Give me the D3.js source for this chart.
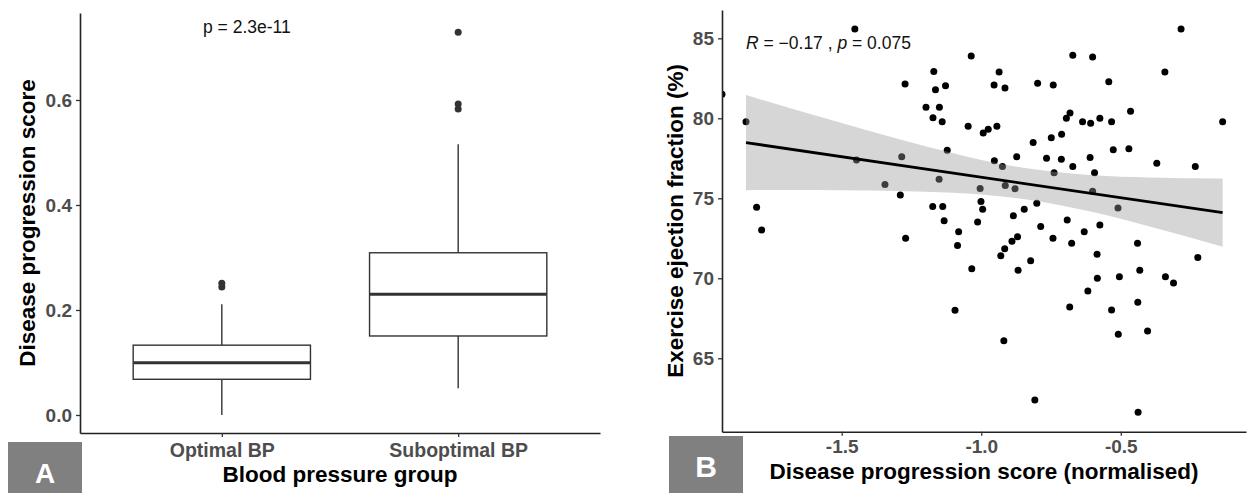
<!DOCTYPE html>
<html><head><meta charset="utf-8">
<script src="https://cdn.jsdelivr.net/npm/d3@7"></script>
<style>
body{margin:0;background:#fff;}
svg{display:block;}
text{font-family:"Liberation Sans",Arial,Helvetica,sans-serif;}
</style></head><body>
<svg id="chart" width="1252" height="493"></svg>
<script>
// ---------- Panel A data (box plot) ----------
const groups = ["Optimal BP", "Suboptimal BP"];
const whiskerLow = [0.0, 0.051];
const q1 = [0.068, 0.1505];
const median = [0.0996, 0.2298];
const q3 = [0.133, 0.309];
const whiskerHigh = [0.211, 0.5156];
const outliersOptimal = [0.244, 0.251];
const outliersSuboptimal = [0.5829, 0.5924, 0.729];
const yTicksA = [0.0, 0.2, 0.4, 0.6];
const pLabelA = "p = 2.3e-11";

// ---------- Panel B data (scatter) ----------
const scoreX = [-1.929,-1.453,-1.843,-1.273,-1.805,-1.787,-1.447,-1.285,-1.345,-1.290,
-1.271,-1.170,-1.164,-1.128,-1.198,-1.150,-1.173,-1.140,-1.122,-1.151,
-1.174,-1.138,-1.133,-1.081,-1.085,-1.094,-1.036,-0.936,-0.954,-0.915,
-0.798,-0.742,-0.672,-0.601,-0.284,-0.543,-0.342,-1.047,-0.993,-0.975,
-0.944,-0.695,-0.682,-0.637,-0.608,-0.575,-0.533,-0.465,-0.135,-0.814,
-0.749,-0.712,-0.953,-0.873,-0.766,-0.713,-0.672,-0.610,-0.594,-0.527,
-0.471,-0.371,-0.233,-0.924,-0.739,-1.004,-0.914,-0.879,-0.601,-0.510,
-1.001,-0.995,-0.801,-0.846,-0.885,-1.013,-0.787,-0.692,-0.575,-0.631,
-0.743,-0.676,-0.440,-0.890,-0.870,-0.916,-0.930,-0.585,-1.034,-0.868,
-0.823,-0.224,-0.584,-0.505,-0.432,-0.340,-0.311,-0.618,-0.439,-0.683,
-0.533,-0.509,-0.404,-0.919,-0.808,-0.438];
const ejectionY = [81.5,85.58,79.79,82.14,74.44,73.02,77.39,77.6,75.86,75.21,
72.5,82.93,81.78,82.04,80.69,80.69,80.04,79.79,78.0,76.19,
74.49,74.49,73.6,72.91,72.05,68.0,83.89,82.89,82.08,81.89,
82.19,82.08,83.94,83.83,85.58,82.29,82.89,79.51,79.08,79.31,
79.5,80.0,80.33,79.79,79.69,80.0,79.79,80.44,79.79,78.48,
78.79,79.01,77.35,77.6,77.5,77.44,76.99,77.55,76.6,78.04,
78.1,77.19,76.99,76.99,76.6,75.61,75.8,75.6,75.44,74.39,
74.8,74.31,74.69,74.31,73.91,73.52,73.24,73.64,73.33,72.91,
72.5,72.19,72.19,72.31,72.6,71.84,71.41,71.5,70.6,70.5,
71.1,71.3,70.0,70.1,70.5,70.1,69.71,69.21,68.5,68.21,
68.02,66.5,66.71,66.1,62.39,61.63];
const fitX = [-1.843, -0.135];
const fitY = [78.48, 74.10];
const ciX = [-1.843, -1.6, -1.4, -1.2, -1.0, -0.825, -0.6, -0.4, -0.135];
const ciLow = [75.51, 75.52, 75.48, 75.41, 75.24, 74.90, 74.14, 73.26, 71.97];
const ciHigh = [81.45, 80.20, 79.20, 78.25, 77.40, 76.84, 76.44, 76.30, 76.23];
const xTicksB = [-1.5, -1.0, -0.5];
const yTicksB = [65, 70, 75, 80, 85];

const svg = d3.select("#chart");
const tickColor = "#4d4d4d";
const lineColor = "#333333";

function styleAxis(g, fontSize) {
  g.select(".domain").attr("stroke", "#222").attr("stroke-width", 1.6);
  g.selectAll(".tick line").attr("stroke", lineColor).attr("stroke-width", 1.3);
  g.selectAll(".tick text").attr("fill", tickColor).attr("font-size", fontSize)
    .attr("font-weight", "bold").attr("font-family", "'Liberation Sans',Arial,sans-serif");
}

// ================= Panel A =================
const A = {left: 80, right: 600, top: 13, bottom: 433};
const xA = d3.scalePoint().domain(groups).range([A.left, A.right]).padding(0.6);
const yA = d3.scaleLinear().domain([-0.0343, 0.7657]).range([A.bottom, A.top]);
const boxW = xA.step() * 0.75;
const gA = svg.append("g");

groups.forEach((grp, i) => {
  const cx = xA(grp);
  gA.append("line").attr("x1", cx).attr("x2", cx).attr("y1", yA(q3[i])).attr("y2", yA(whiskerHigh[i]))
    .attr("stroke", lineColor).attr("stroke-width", 1.4);
  gA.append("line").attr("x1", cx).attr("x2", cx).attr("y1", yA(q1[i])).attr("y2", yA(whiskerLow[i]))
    .attr("stroke", lineColor).attr("stroke-width", 1.4);
  gA.append("rect").attr("x", cx - boxW / 2).attr("width", boxW)
    .attr("y", yA(q3[i])).attr("height", yA(q1[i]) - yA(q3[i]))
    .attr("fill", "#fff").attr("stroke", lineColor).attr("stroke-width", 1.4);
  gA.append("line").attr("x1", cx - boxW / 2).attr("x2", cx + boxW / 2)
    .attr("y1", yA(median[i])).attr("y2", yA(median[i]))
    .attr("stroke", lineColor).attr("stroke-width", 3);
});
const outl = [...outliersOptimal.map(v => ({g: groups[0], v})), ...outliersSuboptimal.map(v => ({g: groups[1], v}))];
gA.selectAll("circle.out").data(outl).enter().append("circle")
  .attr("cx", d => xA(d.g)).attr("cy", d => yA(d.v)).attr("r", 3.5).attr("fill", lineColor);

const axAy = gA.append("g").attr("transform", `translate(${A.left},0)`)
  .call(d3.axisLeft(yA).tickValues(yTicksA).tickFormat(d => d.toFixed(1)).tickSize(4).tickSizeOuter(0).tickPadding(4));
styleAxis(axAy, 19);
const axAx = gA.append("g").attr("transform", `translate(0,${A.bottom})`)
  .call(d3.axisBottom(xA).tickSize(4).tickSizeOuter(0).tickPadding(6));
styleAxis(axAx, 19.5);

gA.append("text").attr("x", 203).attr("y", 33).attr("font-size", 17.5).attr("fill", "#111").text(pLabelA);

gA.append("text").attr("transform", `translate(35,${(A.top + A.bottom) / 2}) rotate(-90)`)
  .attr("text-anchor", "middle").attr("font-size", 22.5).attr("font-weight", "bold").attr("fill", "#000")
  .text("Disease progression score");
gA.append("text").attr("x", (A.left + A.right) / 2).attr("y", 482)
  .attr("text-anchor", "middle").attr("font-size", 22.5).attr("font-weight", "bold").attr("fill", "#000")
  .text("Blood pressure group");

gA.append("rect").attr("x", 8).attr("y", 442).attr("width", 74).attr("height", 51).attr("fill", "#808080");
gA.append("text").attr("x", 45).attr("y", 483).attr("text-anchor", "middle").attr("font-size", 28)
  .attr("font-weight", "bold").attr("fill", "#fff").attr("font-family", "Lato,'Open Sans',sans-serif").text("A");

// ================= Panel B =================
const B = {left: 722, right: 1246, top: 10, bottom: 431.7};
const xB = d3.scaleLinear().domain([-1.929, -0.0513]).range([B.left, B.right]);
const yB = d3.scaleLinear().domain([60.41, 86.77]).range([B.bottom, B.top]);
const gB = svg.append("g");
svg.append("defs").append("clipPath").attr("id", "clipB").append("rect")
  .attr("x", B.left).attr("y", B.top).attr("width", B.right - B.left).attr("height", B.bottom - B.top);

const plot = gB.append("g").attr("clip-path", "url(#clipB)");
const pts = scoreX.map((x, i) => ({x, y: ejectionY[i]}));
plot.selectAll("circle").data(pts).enter().append("circle")
  .attr("cx", d => xB(d.x)).attr("cy", d => yB(d.y)).attr("r", 3.5).attr("fill", "#000");

const ci = ciX.map((x, i) => ({x, lo: ciLow[i], hi: ciHigh[i]}));
plot.append("path").datum(ci)
  .attr("d", d3.area().x(d => xB(d.x)).y0(d => yB(d.lo)).y1(d => yB(d.hi)).curve(d3.curveMonotoneX))
  .attr("fill", "#999999").attr("fill-opacity", 0.4);
const fit = fitX.map((x, i) => ({x, y: fitY[i]}));
plot.append("path").datum(fit)
  .attr("d", d3.line().x(d => xB(d.x)).y(d => yB(d.y)))
  .attr("stroke", "#000").attr("stroke-width", 2.8).attr("fill", "none");

const axBy = gB.append("g").attr("transform", `translate(${B.left},0)`)
  .call(d3.axisLeft(yB).tickValues(yTicksB).tickFormat(d => String(d)).tickSize(4).tickSizeOuter(0).tickPadding(4));
styleAxis(axBy, 19);
const axBx = gB.append("g").attr("transform", `translate(0,${B.bottom})`)
  .call(d3.axisBottom(xB).tickValues(xTicksB).tickFormat(d => d.toFixed(1)).tickSize(4).tickSizeOuter(0).tickPadding(4));
styleAxis(axBx, 19);

const rt = gB.append("text").attr("x", xB(fitX[0])).attr("y", 49).attr("font-size", 17.5).attr("fill", "#111");
rt.append("tspan").attr("font-style", "italic").text("R");
rt.append("tspan").text(" = \u22120.17 , ");
rt.append("tspan").attr("font-style", "italic").text("p");
rt.append("tspan").text(" = 0.075");

gB.append("text").attr("transform", `translate(683,${(B.top + B.bottom) / 2}) rotate(-90)`)
  .attr("text-anchor", "middle").attr("font-size", 22.5).attr("font-weight", "bold").attr("fill", "#000")
  .text("Exercise ejection fraction (%)");
gB.append("text").attr("x", (B.left + B.right) / 2).attr("y", 478.5)
  .attr("text-anchor", "middle").attr("font-size", 22.5).attr("font-weight", "bold").attr("fill", "#000")
  .text("Disease progression score (normalised)");

gB.append("rect").attr("x", 669).attr("y", 436).attr("width", 74).attr("height", 57).attr("fill", "#808080");
gB.append("text").attr("x", 706).attr("y", 477).attr("text-anchor", "middle").attr("font-size", 30)
  .attr("font-weight", "bold").attr("fill", "#fff").attr("font-family", "Lato,'Open Sans',sans-serif").text("B");
</script>
</body></html>
